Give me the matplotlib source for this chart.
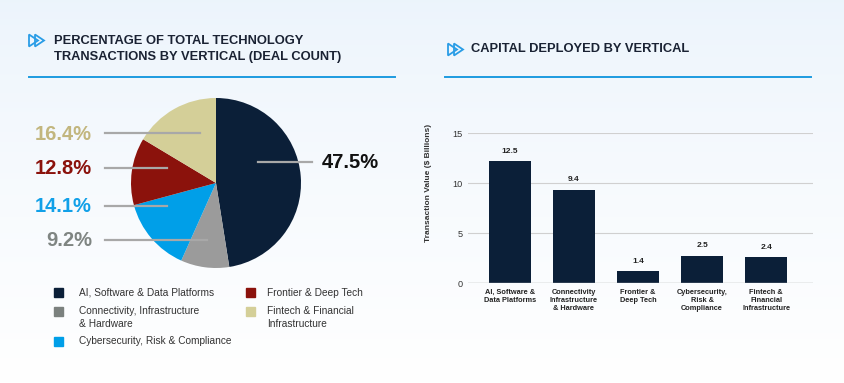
import numpy as np
import matplotlib
matplotlib.use("Agg")
import matplotlib.pyplot as plt
from matplotlib.patches import Polygon, Rectangle
from matplotlib.lines import Line2D

plt.rcParams["font.family"] = ["Liberation Sans", "DejaVu Sans"]

# data
verticals = ["AI, Software & Data Platforms", "Connectivity, Infrastructure\n& Hardware",
             "Cybersecurity, Risk & Compliance", "Frontier & Deep Tech",
             "Fintech & Financial\nInfrastructure"]
deal_share = [47.5, 9.2, 14.1, 12.8, 16.4]
slice_colors = ["#0b1f38", "#9b9b9b", "#009fe8", "#8b120c", "#d4cf98"]
label_colors = ["#111111", "#7f8582", "#11a0e8", "#8b120c", "#c2b67e"]
legend_colors = ["#0b1f38", "#7b817e", "#009fe8", "#8b120c", "#d4cf98"]

bar_cats = ["AI, Software &\nData Platforms", "Connectivity\nInfrastructure\n& Hardware",
            "Frontier &\nDeep Tech", "Cybersecurity,\nRisk &\nCompliance",
            "Fintech &\nFinancial\nInfrastructure"]
bar_heights = [12.2, 9.35, 1.2, 2.75, 2.6]
bar_labels = ["12.5", "9.4", "1.4", "2.5", "2.4"]

W, H = 844, 383
NAVY = "#0b1f38"
BLUE = "#1e9be0"


def fx(x):
    return x / W


def fy(y):
    return 1 - y / H


fig = plt.figure(figsize=(W / 100, H / 100), dpi=100)

# background gradient
bg = fig.add_axes([0, 0, 1, 1], zorder=-10)
grad = np.linspace(0, 1, 256).reshape(-1, 1)
top = np.array([0.925, 0.957, 0.988])
bot = np.array([1.0, 1.0, 1.0])
img = top + (bot - top) * grad[..., None] ** 0.8
bg.imshow(img, aspect="auto", extent=[0, 1, 0, 1])
bg.axis("off")


def header(x_icon, y_icon, x0, x1):
    for dx in (0, 6):
        tri = Polygon([(fx(x_icon + dx), fy(y_icon - 6)), (fx(x_icon + dx), fy(y_icon + 6)),
                       (fx(x_icon + dx + 9), fy(y_icon))], closed=True, fill=False,
                      edgecolor="#2a9de6", lw=1.3, transform=fig.transFigure)
        fig.patches.append(tri)
    fig.lines.append(Line2D([fx(x0), fx(x1)], [fy(77), fy(77)], color=BLUE, lw=1.4,
                            transform=fig.transFigure))


header(29, 40.5, 29, 395)
header(448, 49.5, 445, 811)
title_kw = dict(fontsize=9.3, fontweight="bold", color="#1a2233", va="center", ha="left")
fig.text(fx(54), fy(41), "PERCENTAGE OF TOTAL TECHNOLOGY", **title_kw)
fig.text(fx(54), fy(57), "TRANSACTIONS BY VERTICAL (DEAL COUNT)", **title_kw)
fig.text(fx(471), fy(49.5), "CAPITAL DEPLOYED BY VERTICAL", **title_kw)

# pie
cx, cy, r = 216, 183, 85
pax = fig.add_axes([fx(cx - r), fy(cy + r), 2 * r / W, 2 * r / H])
pax.pie(deal_share, colors=slice_colors, startangle=90, counterclock=False,
        wedgeprops=dict(linewidth=0))
pax.set_xlim(-1, 1)
pax.set_ylim(-1, 1)
pax.axis("off")

# leader lines and labels (pixel positions)
leaders = [(258, 312, 162, 322, "left"), (105, 207, 240, 92, "right"),
           (105, 167, 206, 92, "right"), (105, 167, 168, 92, "right"),
           (105, 200, 133, 92, "right")]
for (x0, x1, y, tx, ha), v, c in zip(leaders, deal_share, label_colors):
    fig.lines.append(Line2D([fx(x0), fx(x1)], [fy(y), fy(y)], color="#a8a8a8", lw=1.6,
                            transform=fig.transFigure))
    fig.text(fx(tx), fy(y + 1), f"{v}%", fontsize=14.5, fontweight="bold", color=c,
             ha=ha, va="center")

# legend
legend_pos = [(58, 79, 292), (58, 79, 311), (58, 79, 341), (250, 267, 292), (250, 267, 311)]
for (sx, tx, y), name, c in zip(legend_pos, verticals, legend_colors):
    fig.patches.append(Rectangle((fx(sx - 4.5), fy(y + 4.5)), 9 / W, 9 / H, color=c,
                                 transform=fig.transFigure))
    fig.text(fx(tx), fy(y - 4.5), name, fontsize=7.3, color="#333333", ha="left", va="top",
             linespacing=1.3)

# bar chart
bax = fig.add_axes([fx(468), fy(283.3), (813 - 468) / W, (283.3 - 133.3) / H])
bax.patch.set_alpha(0)
xs = np.arange(len(bar_cats))
bax.bar(xs, bar_heights, width=0.66, color=NAVY, zorder=3)
for x, h, lab in zip(xs, bar_heights, bar_labels):
    bax.text(x, h + 0.65, lab, ha="center", va="bottom", fontsize=6.0, fontweight="bold",
             color="#222222")
bax.set_ylim(0, 15)
bax.set_xlim(-0.65, 4.73)
bax.set_yticks([0, 5, 10, 15])
bax.set_xticks(xs)
bax.set_xticklabels(bar_cats, fontsize=5.3, fontweight="bold", color="#222222",
                    linespacing=1.2)
bax.tick_params(axis="both", length=0)
bax.tick_params(axis="x", pad=4)
bax.tick_params(axis="y", labelsize=6.6, labelcolor="#333333", pad=4)
bax.grid(axis="y", color="#d0d0d0", lw=0.8, zorder=0)
for s in bax.spines.values():
    s.set_visible(False)
bax.axhline(0, color="#b8b8b8", lw=1, zorder=4)
bax.set_ylabel("Transaction Value ($ Billions)", fontsize=6.0, fontweight="bold",
               color="#333333")
bax.yaxis.set_label_coords(-0.104, 0.67)

fig.savefig("out.png", dpi=100)
